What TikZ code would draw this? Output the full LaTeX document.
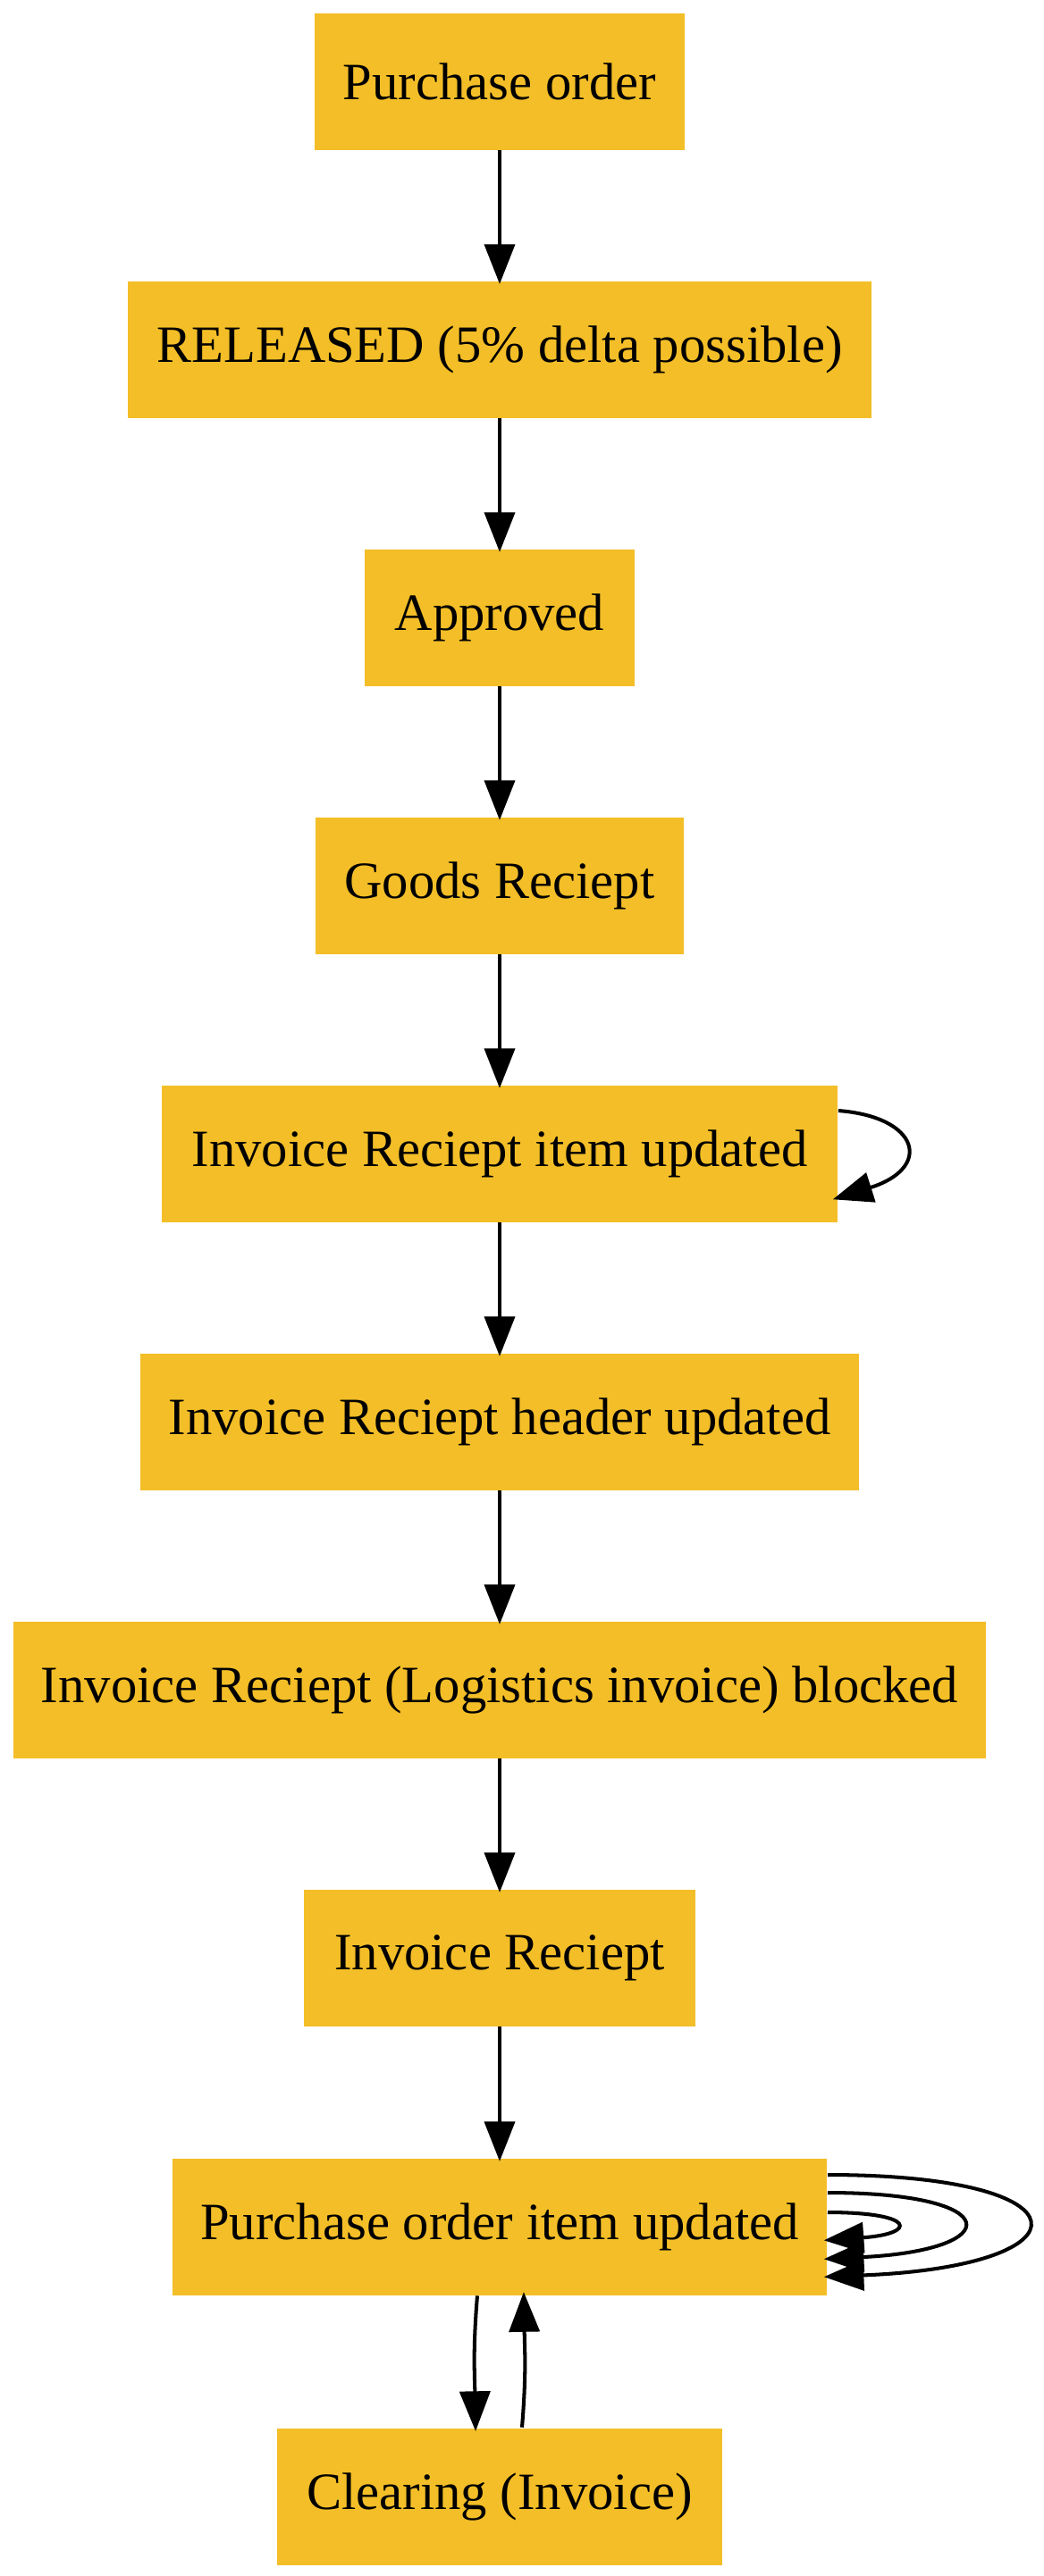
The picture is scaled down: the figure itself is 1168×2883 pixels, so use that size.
\documentclass[tikz,border=0pt]{standalone}
\usepackage{fontspec}
\setmainfont{Liberation Serif}
\usetikzlibrary{arrows.meta,calc}
\definecolor{boxfill}{RGB}{243,190,39}
\begin{document}
\begin{tikzpicture}[x=0.23529pt,y=-0.23529pt,
  stbox/.style={rectangle,fill=boxfill,minimum height=36pt,inner sep=0pt,font=\fontsize{13.8pt}{16pt}\selectfont},
  edge/.style={line width=0.95pt,shorten >=-1pt,-{Triangle[length=10.5pt,width=8pt]}}]
\useasboundingbox (0,0) rectangle (1168,2883);
\node[stbox,minimum width=97.4pt] (n1) at (559,91) {Purchase order};
\node[stbox,minimum width=195.6pt] (n2) at (559,391) {RELEASED (5\% delta possible)};
\node[stbox,minimum width=71pt] (n3) at (559,691) {Approved};
\node[stbox,minimum width=97pt] (n4) at (559,991) {Goods Reciept};
\node[stbox,minimum width=177.9pt] (n5) at (559,1291) {Invoice Reciept item updated};
\node[stbox,minimum width=189pt] (n6) at (559,1591) {Invoice Reciept header updated};
\node[stbox,minimum width=256pt] (n7) at (559,1891) {Invoice Reciept (Logistics invoice) blocked};
\node[stbox,minimum width=103pt] (n8) at (559,2191) {Invoice Reciept};
\node[stbox,minimum width=172.3pt] (n9) at (559,2492) {Purchase order item updated};
\node[stbox,minimum width=117.3pt] (n10) at (559,2794) {Clearing (Invoice)};
\draw[edge] (n1) -- (n2);
\draw[edge] (n2) -- (n3);
\draw[edge] (n3) -- (n4);
\draw[edge] (n4) -- (n5);
\draw[edge] (n5) -- (n6);
\draw[edge] (n6) -- (n7);
\draw[edge] (n7) -- (n8);
\draw[edge] (n8) -- (n9);
% self loop on n5
\draw[edge] ($(n5.east)+(0,-48)$) .. controls ($(n5.east)+(91,-41)$) and ($(n5.east)+(106,16)$) .. ($(n5.east)+(-2,50)$);
% self loops on n9
\draw[edge] ($(n9.east)+(0,-16)$) .. controls ($(n9.east)+(100,-16)$) and ($(n9.east)+(100,8)$) .. ($(n9.east)+(0,15)$);
\draw[edge] ($(n9.east)+(0,-38)$) .. controls ($(n9.east)+(200,-38)$) and ($(n9.east)+(200,26)$) .. ($(n9.east)+(0,36)$);
\draw[edge] ($(n9.east)+(0,-58)$) .. controls ($(n9.east)+(297,-58)$) and ($(n9.east)+(297,44)$) .. ($(n9.east)+(0,56)$);
% between n9 and n10
\draw[edge] ($(n9.south)+(-25,0)$) .. controls ($(n9.south)+(-30,60)$) and ($(n10.north)+(-28,-60)$) .. ($(n10.north)+(-27,0)$);
\draw[edge] ($(n10.north)+(25,0)$) .. controls ($(n10.north)+(30,-60)$) and ($(n9.south)+(28,60)$) .. ($(n9.south)+(27,0)$);
\end{tikzpicture}
\end{document}
